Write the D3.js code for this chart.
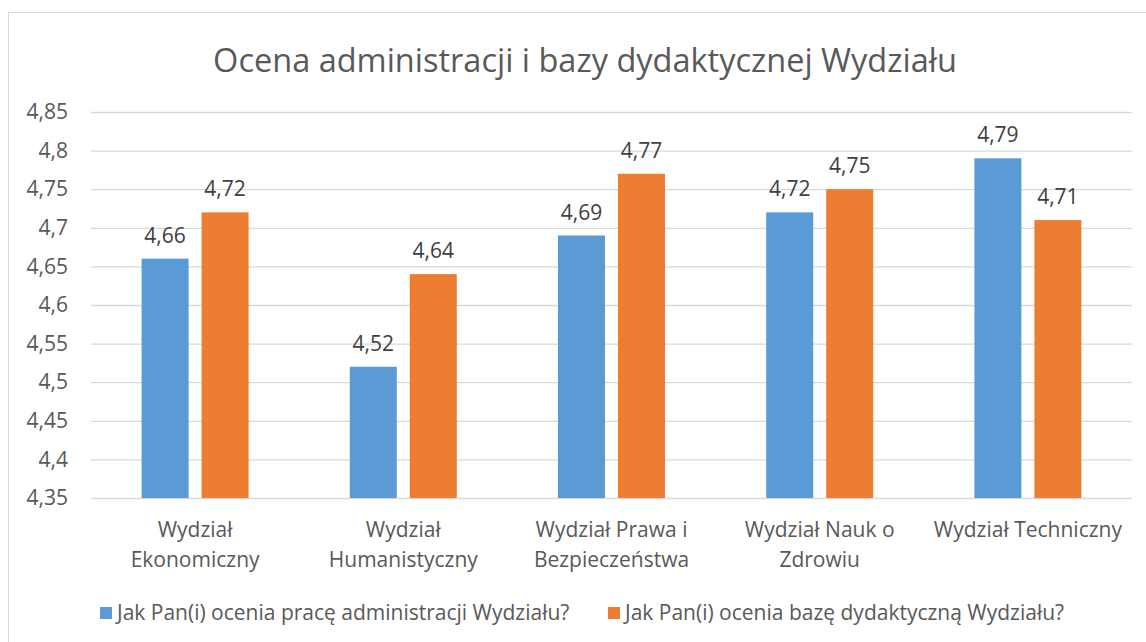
<!DOCTYPE html>
<html>
<head>
<meta charset="utf-8">
<script src="https://cdn.jsdelivr.net/npm/d3@7/dist/d3.min.js"></script>
<style>
  body { margin: 0; background: #fff; }
  svg { display: block; font-family: "Open Sans", "Noto Sans", sans-serif; }
</style>
</head>
<body>
<div id="chart"></div>
<script>
// dane wykresu
const kategorie = [
    ["Wydział", "Ekonomiczny"],
    ["Wydział", "Humanistyczny"],
    ["Wydział Prawa i", "Bezpieczeństwa"],
    ["Wydział Nauk o", "Zdrowiu"],
    ["Wydział Techniczny"]
];
const serie = [
    "Jak Pan(i) ocenia pracę administracji Wydziału?",
    "Jak Pan(i) ocenia bazę dydaktyczną Wydziału?"
];
const administracja = [4.66, 4.52, 4.69, 4.72, 4.79];
const baza = [4.72, 4.64, 4.77, 4.75, 4.71];
const yTicks = [4.35, 4.4, 4.45, 4.5, 4.55, 4.6, 4.65, 4.7, 4.75, 4.8, 4.85];
const kolory = ["#5B9BD5", "#ED7D31"];

const width = 1146;
const height = 642;
const fmt = v => String(v).replace(".", ",");

const svg = d3.select("#chart").append("svg")
    .attr("width", width)
    .attr("height", height);

// ramka wykresu
svg.append("rect")
    .attr("x", 8.5).attr("y", 12.5)
    .attr("width", 1160).attr("height", 660)
    .attr("fill", "none")
    .attr("stroke", "#D9D9D9");

// tytuł
svg.append("text")
    .attr("x", 585).attr("y", 72)
    .attr("text-anchor", "middle")
    .style("font-size", "32.5px")
    .style("fill", "#595959")
    .text("Ocena administracji i bazy dydaktycznej Wydziału");

const x0 = d3.scaleBand()
    .domain(d3.range(kategorie.length))
    .range([91, 1132]);

const x1 = d3.scaleBand()
    .domain([0, 1])
    .range([0, 107])
    .paddingInner(0.2167);

const groupOffset = (x0.bandwidth() - 107) / 2;

const y = d3.scaleLinear()
    .domain([4.35, 4.85])
    .range([498, 112]);

// linie siatki i etykiety osi Y
const yAxis = d3.axisLeft(y)
    .tickValues(yTicks)
    .tickSize(-(1132 - 91))
    .tickPadding(23)
    .tickFormat(fmt);

const gy = svg.append("g")
    .attr("transform", "translate(91,0)")
    .call(yAxis);
gy.select(".domain").remove();
gy.selectAll(".tick line").attr("stroke", "#D9D9D9").attr("stroke-width", 1.3);
gy.selectAll(".tick text")
    .style("font-size", "21px")
    .style("fill", "#595959")
    .style("font-family", "'Open Sans', 'Noto Sans', sans-serif");

// słupki
const dane = [administracja, baza];
dane.forEach((wartosci, s) => {
    const g = svg.append("g");
    g.selectAll("rect")
        .data(wartosci)
        .enter()
        .append("rect")
        .attr("x", (d, i) => x0(i) + groupOffset + x1(s))
        .attr("y", d => y(d))
        .attr("width", x1.bandwidth())
        .attr("height", d => y(4.35) - y(d))
        .attr("fill", kolory[s]);

    // etykiety danych
    g.selectAll("text")
        .data(wartosci)
        .enter()
        .append("text")
        .attr("x", (d, i) => x0(i) + groupOffset + x1(s) + x1.bandwidth() / 2)
        .attr("y", d => y(d) - 16)
        .attr("text-anchor", "middle")
        .style("font-size", "21px")
        .style("fill", "#404040")
        .text(d => fmt(d));
});

// etykiety kategorii
const gx = svg.append("g");
kategorie.forEach((linie, i) => {
    const t = gx.append("text")
        .attr("text-anchor", "middle")
        .style("font-size", "21px")
        .style("fill", "#595959");
    linie.forEach((l, j) => {
        t.append("tspan")
            .attr("x", x0(i) + x0.bandwidth() / 2)
            .attr("y", 537 + j * 30)
            .text(l);
    });
});

// legenda
const legendX = [100, 608];
serie.forEach((nazwa, s) => {
    svg.append("rect")
        .attr("x", legendX[s]).attr("y", 607)
        .attr("width", 12).attr("height", 12)
        .attr("fill", kolory[s]);
    svg.append("text")
        .attr("x", legendX[s] + 17).attr("y", 620)
        .style("font-size", "21px")
        .style("fill", "#595959")
        .text(nazwa);
});
</script>
</body>
</html>
